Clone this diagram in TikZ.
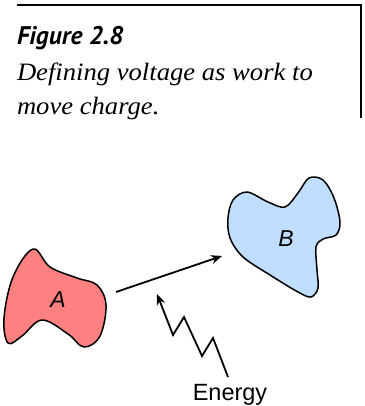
\documentclass[tikz,border=0pt]{standalone}
\usepackage{fontspec}
\setmainfont{Liberation Serif}
\newfontfamily\figfont{PT Sans}
\newfontfamily\arialfont{Liberation Sans}
\usetikzlibrary{arrows.meta}
\definecolor{redfill}{HTML}{FF8080}
\definecolor{bluefill}{HTML}{C0DEFF}
\begin{document}
\begin{tikzpicture}[x=1pt,y=-1pt,
  txt/.style={inner sep=0pt,outer sep=0pt},
  blob/.style={draw=black,line width=1.5pt,line join=round},
  conn/.style={draw=black,line width=1.8pt,-{Stealth[length=11pt,width=9pt]}}]
\useasboundingbox (0,0) rectangle (364,406);
% frame
\draw[line width=2.5pt] (17,5) -- (362.2,5);
\draw[line width=1.6pt] (361,4) -- (361,118);
% caption
\node[txt,anchor=base west] (fig) at (17,45) {\figfont\bfseries\itshape\fontsize{25.5}{28}\selectfont Figure 2.8};
\node[txt,anchor=base west] (cap1) at (17,81) {\scalebox{1.065}[1]{\itshape\fontsize{25}{28}\selectfont Defining voltage as work to}};
\node[txt,anchor=base west] (cap2) at (17,115) {\scalebox{1.065}[1]{\itshape\fontsize{25}{28}\selectfont move charge.}};
% blob A
\path[blob,fill=redfill] plot[smooth cycle,tension=0.6] coordinates {
 (33,249) (50,267) (77,278) (97,285) (106,305) (100,336) (84,347)
 (68,334) (42,320) (22,336) (8,343) (4,318) (13,277)};
\node[txt] (A) at (58,300) {\arialfont\itshape\fontsize{23}{26}\selectfont A};
% blob B
\path[blob,fill=bluefill] plot[smooth cycle,tension=0.55] coordinates {
 (247,192) (268,202) (285,207) (298,193) (309,178) (323,180) (334,198)
 (340,222) (336,235) (323,239) (316,247) (317,270) (318,288) (311,297)
 (298,292) (270,275) (243,257) (230,238) (228,218) (233,200)};
\node[txt] (B) at (286,239) {\arialfont\itshape\fontsize{23}{26}\selectfont B};
% arrow A -> B
\coordinate (a1) at (116,292);
\coordinate (b1) at (222,256);
\draw[conn] (a1) -- (b1);
% energy
\node[txt,anchor=base] (E) at (230,400) {\arialfont\fontsize{23.5}{26}\selectfont Energy};
\coordinate (z0) at (228,377);
\draw[conn,line join=miter] (z0) -- (213,338) -- (202,356) -- (184,317) -- (173,335) -- (157,294);
\end{tikzpicture}
\end{document}
